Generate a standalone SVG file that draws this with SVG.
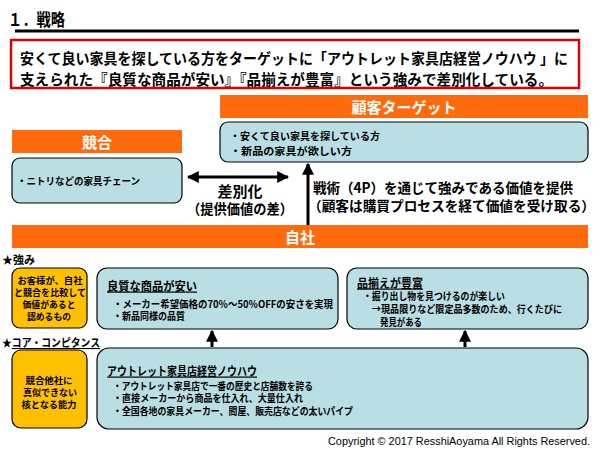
<svg xmlns="http://www.w3.org/2000/svg" width="600" height="450" viewBox="0 0 600 450">
<defs>
<style>
text{font-family:"Noto Sans CJK JP","Noto Sans",sans-serif;font-weight:bold;fill:#000}
.bar{fill:#ff6a0d}
.barT{fill:#fff;font-size:15px;text-anchor:middle;dominant-baseline:central}
.box{fill:#b9dee3;stroke:#000;stroke-width:1.2}
.ybox{fill:#ffc000;stroke:#000;stroke-width:1.2}
.s{font-size:10px;dominant-baseline:central}
.yt{font-size:9.5px;text-anchor:middle;dominant-baseline:central}
.ttl{font-size:12px;dominant-baseline:central;text-decoration:underline}
.big{font-size:14px;dominant-baseline:central}
.conn{stroke:#000;stroke-width:3;fill:none}
</style>
<marker id="ah" viewBox="0 0 10 10" refX="9" refY="5" markerWidth="4" markerHeight="4" orient="auto-start-reverse" markerUnits="strokeWidth">
<path d="M0,0 L10,5 L0,10 z" fill="#000"/>
</marker>
</defs>
<rect width="600" height="450" fill="#fff"/>

<g id="title">
<text x="8" y="18" font-size="17" dominant-baseline="central" textLength="57" lengthAdjust="spacingAndGlyphs">１．戦略</text>
<line x1="15" y1="31" x2="579" y2="31" stroke="#000" stroke-width="3"/>
</g>

<g id="summary">
<rect x="11" y="40" width="568" height="48" fill="#fff" stroke="#e00000" stroke-width="2.5"/>
<text class="big" x="20" y="57" textLength="548" lengthAdjust="spacingAndGlyphs" style="font-size:14.5px">安くて良い家具を探している方をターゲットに「アウトレット家具店経営ノウハウ 」に</text>
<text class="big" x="20" y="78" textLength="533" lengthAdjust="spacingAndGlyphs" style="font-size:14.5px">支えられた『良質な商品が安い』『品揃えが豊富』という強みで差別化している。</text>
</g>

<g id="target">
<rect class="bar" x="220" y="95" width="368" height="23"/>
<text class="barT" x="404" y="106.5">顧客ターゲット</text>
<rect class="box" x="220" y="122" width="368" height="40" rx="8"/>
<text class="s" x="230" y="135" textLength="150" lengthAdjust="spacingAndGlyphs">・安くて良い家具を探している方</text>
<text class="s" x="230" y="150" textLength="122" lengthAdjust="spacingAndGlyphs">・新品の家具が欲しい方</text>
</g>

<g id="competitor">
<rect class="bar" x="12" y="130" width="170" height="23"/>
<text class="barT" x="97" y="141.5">競合</text>
<rect class="box" x="12" y="158" width="170" height="45" rx="8"/>
<text class="s" x="17" y="180" textLength="123" lengthAdjust="spacingAndGlyphs">・ニトリなどの家具チェーン</text>
</g>

<g id="company">
<rect class="bar" x="12" y="225" width="576" height="23"/>
<text class="barT" x="300" y="236.5">自社</text>
</g>

<g id="labels">
<text x="240" y="190" class="big" text-anchor="middle" style="font-size:15px">差別化</text>
<text x="240" y="208" class="big" text-anchor="middle" textLength="106" lengthAdjust="spacingAndGlyphs">（提供価値の差）</text>
<text x="313" y="187" class="big" textLength="260" lengthAdjust="spacingAndGlyphs">戦術（4P）を通じて強みである価値を提供</text>
<text x="308" y="205" class="big" textLength="287" lengthAdjust="spacingAndGlyphs" style="font-size:13.5px">（顧客は購買プロセスを経て価値を受け取る）</text>
<text x="2" y="259" font-size="11" dominant-baseline="central">★強み</text>
<text x="2" y="342" font-size="11" dominant-baseline="central" textLength="98" lengthAdjust="spacingAndGlyphs">★<tspan text-decoration="underline">コア・コンピタンス</tspan></text>
</g>

<g id="strength-def">
<rect class="ybox" x="12" y="268" width="75" height="60" rx="8"/>
<text class="yt" x="50" y="280" textLength="65" lengthAdjust="spacingAndGlyphs">お客様が、自社</text>
<text class="yt" x="50" y="292" textLength="72" lengthAdjust="spacingAndGlyphs">と競合を比較して</text>
<text class="yt" x="49" y="304" textLength="53" lengthAdjust="spacingAndGlyphs">価値があると</text>
<text class="yt" x="49" y="316" textLength="44" lengthAdjust="spacingAndGlyphs">認めるもの</text>
</g>

<g id="strength-price">
<rect class="box" x="97" y="268" width="241" height="61" rx="10"/>
<text class="ttl" x="107" y="285" textLength="90" lengthAdjust="spacingAndGlyphs">良質な商品が安い</text>
<text class="s" x="113" y="303" textLength="220" lengthAdjust="spacingAndGlyphs">・メーカー希望価格の70％～50％OFFの安さを実現</text>
<text class="s" x="113" y="315" textLength="72" lengthAdjust="spacingAndGlyphs">・新品同様の品質</text>
</g>

<g id="strength-variety">
<rect class="box" x="347" y="268" width="241" height="61" rx="10"/>
<text class="ttl" x="357" y="282" textLength="66" lengthAdjust="spacingAndGlyphs">品揃えが豊富</text>
<text class="s" x="363" y="295" textLength="142" lengthAdjust="spacingAndGlyphs">・掘り出し物を見つけるのが楽しい</text>
<text class="s" x="372" y="308" textLength="190" lengthAdjust="spacingAndGlyphs">→現品限りなど限定品多数のため、行くたびに</text>
<text class="s" x="380" y="321" textLength="42" lengthAdjust="spacingAndGlyphs">発見がある</text>
</g>

<g id="core-def">
<rect class="ybox" x="12" y="350" width="75" height="78" rx="9"/>
<text class="yt" x="49" y="380" textLength="47" lengthAdjust="spacingAndGlyphs">競合他社に</text>
<text class="yt" x="50" y="392" textLength="54" lengthAdjust="spacingAndGlyphs">真似できない</text>
<text class="yt" x="49" y="404" textLength="55" lengthAdjust="spacingAndGlyphs">核となる能力</text>
</g>

<g id="core-knowhow">
<rect class="box" x="97" y="348" width="491" height="81" rx="12"/>
<text class="ttl" x="107" y="370" textLength="150" lengthAdjust="spacingAndGlyphs">アウトレット家具店経営ノウハウ</text>
<text class="s" x="113" y="385" textLength="200" lengthAdjust="spacingAndGlyphs">・アウトレット家具店で一番の歴史と店舗数を誇る</text>
<text class="s" x="113" y="397" textLength="190" lengthAdjust="spacingAndGlyphs">・直接メーカーから商品を仕入れ、大量仕入れ</text>
<text class="s" x="113" y="410" textLength="240" lengthAdjust="spacingAndGlyphs">・全国各地の家具メーカー、問屋、販売店などの太いパイプ</text>
</g>

<g id="connectors">
<line class="conn" x1="188" y1="177" x2="288" y2="177" marker-start="url(#ah)" marker-end="url(#ah)"/>
<line class="conn" x1="308" y1="225" x2="308" y2="164" marker-end="url(#ah)"/>
<line class="conn" x1="212" y1="347" x2="212" y2="331" marker-end="url(#ah)"/>
<line class="conn" x1="465" y1="347" x2="465" y2="331" marker-end="url(#ah)"/>
</g>

<g id="footer">
<text x="590" y="441" text-anchor="end" dominant-baseline="central" style="font-family:'Liberation Sans',sans-serif;font-weight:normal;font-size:11px" textLength="262" lengthAdjust="spacingAndGlyphs">Copyright © 2017 ResshiAoyama All Rights Reserved.</text>
</g>
</svg>
